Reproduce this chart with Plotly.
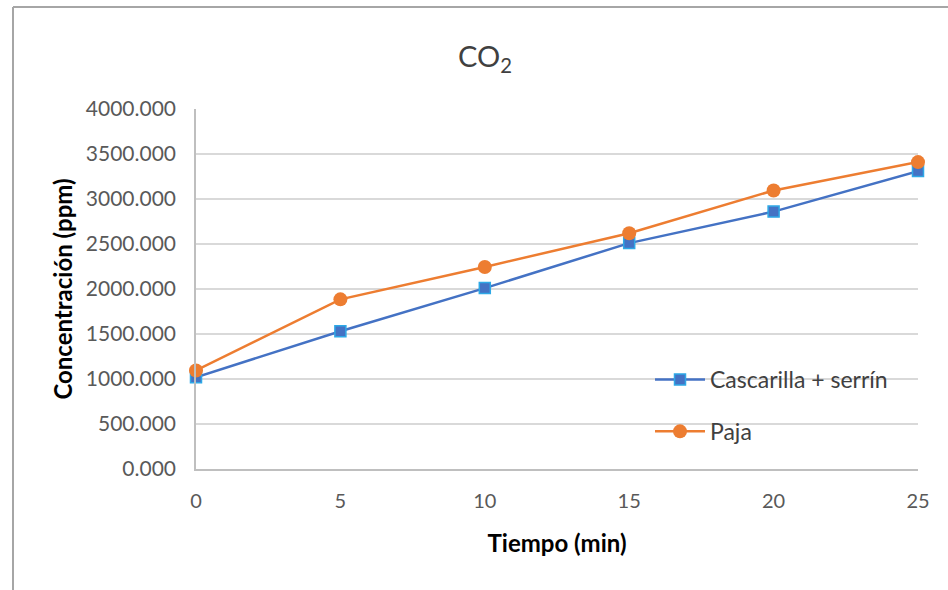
import plotly.graph_objects as go

# Time in minutes
tiempo = [0, 5, 10, 15, 20, 25]

# CO2 concentration (ppm) for each fuel
cascarilla_serrin = [1020, 1530, 2010, 2510, 2860, 3310]
paja = [1095, 1885, 2245, 2620, 3095, 3410]

y_ticks = [0, 500, 1000, 1500, 2000, 2500, 3000, 3500, 4000]

W, H = 948, 590
L, R, T, B = 196, 30, 109, 121
plot_w = W - L - R
plot_h = H - T - B

def px_to_paper_x(px):
    return (px - L) / plot_w

def px_to_paper_y(py):
    return (H - B - py) / plot_h

fig = go.Figure()

fig.add_trace(go.Scatter(
    x=tiempo, y=cascarilla_serrin, name="Cascarilla + serrín",
    mode="lines+markers", legendgroup="a",
    line=dict(color="#4472C4", width=2.5),
    marker=dict(symbol="square", size=11, color="#4472C4",
                line=dict(color="#2EA8E6", width=1.5)),
    cliponaxis=False,
))
fig.add_trace(go.Scatter(
    x=tiempo, y=paja, name="Paja",
    mode="lines+markers", legendgroup="b",
    line=dict(color="#ED7D31", width=2.5),
    marker=dict(symbol="circle", size=14, color="#ED7D31"),
    cliponaxis=False,
))

font_family = "Lato, 'Open Sans', sans-serif"

# Frame lines along the top and left edges of the chart area
frame = dict(color="#A6A6A6", width=2)
shapes = [
    dict(type="line", xref="paper", yref="paper",
         x0=px_to_paper_x(13), x1=px_to_paper_x(W + 5),
         y0=px_to_paper_y(7), y1=px_to_paper_y(7), line=frame),
    dict(type="line", xref="paper", yref="paper",
         x0=px_to_paper_x(13), x1=px_to_paper_x(13),
         y0=px_to_paper_y(7), y1=px_to_paper_y(H + 5), line=frame),
]

fig.update_layout(
    width=W, height=H,
    margin=dict(l=L, r=R, t=T, b=B),
    paper_bgcolor="white", plot_bgcolor="white",
    font=dict(family=font_family, color="#595959"),
    title=dict(text="CO<sub>2</sub>", x=485 / W, xanchor="center",
               y=1 - 57 / H, yanchor="middle",
               font=dict(size=29, color="#404040", family=font_family)),
    xaxis=dict(
        range=[0, 25], tickvals=tiempo, ticks="",
        showgrid=False, zeroline=False,
        showline=True, linecolor="#BFBFBF", linewidth=1.5,
        tickfont=dict(size=20, color="#595959"),
        ticklabelstandoff=13,
        title=dict(text="<b>Tiempo (min)</b>", standoff=24,
                   font=dict(size=24, color="#000000")),
    ),
    yaxis=dict(
        range=[0, 4000], tickvals=y_ticks, tickformat=".3f", ticks="",
        showgrid=True, gridcolor="#D9D9D9", gridwidth=1.5,
        zeroline=False, showline=True, linecolor="#BFBFBF", linewidth=1.5,
        tickfont=dict(size=21, color="#595959"),
        ticklabelstandoff=14,
        title=dict(text="<b>Concentración (ppm)</b>", standoff=6,
                   font=dict(size=24, color="#000000")),
    ),
    legend=dict(
        x=px_to_paper_x(650), y=px_to_paper_y(358),
        xanchor="left", yanchor="top",
        bgcolor="rgba(0,0,0,0)",
        font=dict(size=23, color="#404040"),
        traceorder="grouped", tracegroupgap=19,
        itemwidth=50,
    ),
    shapes=shapes,
)

fig.write_html("out.html")
